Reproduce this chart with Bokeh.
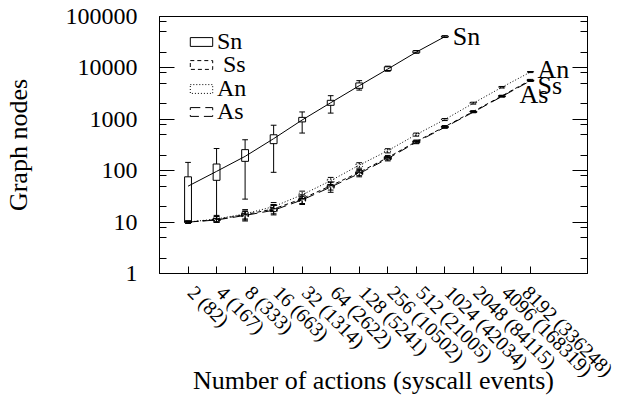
from bokeh.plotting import figure
from bokeh.models import (Range1d, FixedTicker, LogAxis, NumeralTickFormatter,
                          Legend, LegendItem, Label, CustomJSTickFormatter)
from bokeh.embed import file_html
from bokeh.resources import INLINE

# ---------------- data ----------------
actions = [2, 4, 8, 16, 32, 64, 128, 256, 512, 1024, 2048, 4096, 8192]
events = [82, 167, 333, 663, 1314, 2622, 5241, 10502, 21005, 42034, 84115, 168319, 336248]

# Sn (up to 1024 actions)
sn_med = [50, 97, 190, 420, 970, 2100, 4500, 9500, 20300, 40500]
sn_q1 = [10.3, 65, 152, 336, 890, 1870, 4000, 8900, 19600, 39600]
sn_q3 = [76, 135, 257, 500, 1090, 2340, 5100, 10500, 21500, 41700]
sn_lo = [10, 10, 28, 93, 540, 1320, 3700, 8600, 19300, 39000]
sn_hi = [145, 270, 400, 767, 1390, 2880, 5650, 10800, 21800, 42300]

# An
an_med = [10, 11.5, 14.5, 20, 34, 64, 128, 245, 505, 990, 2060, 4200, 8300]
an_q1 = [9.8, 11, 13.5, 18.5, 31.5, 60, 121, 234, 488, 965, 2010, 4120, 8180]
an_q3 = [10.2, 12, 15.5, 21.5, 36.5, 68, 135, 256, 522, 1015, 2110, 4280, 8420]
an_lo = [9.5, 10, 11.5, 16, 28, 54, 112, 222, 470, 945, 1975, 4060, 8100]
an_hi = [10.5, 13.5, 17.5, 24, 40, 74, 143, 268, 540, 1035, 2150, 4350, 8500]

# Ss
ss_med = [10, 11.2, 14, 18, 28.5, 51, 93, 180, 370, 720, 1420, 2850, 5800]
ss_q1 = [9.8, 10.7, 13.2, 16.8, 26.5, 48, 88, 172, 358, 702, 1395, 2800, 5700]
ss_q3 = [10.2, 11.8, 14.8, 19.3, 30.5, 54, 98, 188, 382, 738, 1445, 2900, 5900]
ss_lo = [9.5, 10, 11, 14.5, 23, 42, 80, 162, 345, 685, 1370, 2760, 5620]
ss_hi = [10.5, 13, 16.5, 22, 34, 60, 106, 198, 395, 755, 1470, 2940, 5980]

# As
as_med = [10, 11, 13.5, 17, 27, 48, 88, 172, 358, 700, 1380, 2780, 5600]
as_q1 = [9.8, 10.5, 12.8, 16, 25.5, 45.5, 84, 165, 348, 685, 1360, 2740, 5520]
as_q3 = [10.2, 11.6, 14.3, 18.2, 28.8, 51, 93, 180, 368, 716, 1402, 2820, 5680]
as_lo = [9.5, 10, 10.5, 13.8, 22, 38, 76, 155, 335, 668, 1340, 2700, 5450]
as_hi = [10.5, 12.8, 16, 21, 32, 60, 100, 190, 380, 730, 1420, 2860, 5750]

series_names = ["Sn", "Ss", "An", "As"]

y_major = [1, 10, 100, 1000, 10000, 100000]
y_minor_mult = [2, 5, 8]

# ---------------- figure ----------------
FONT = "Liberation Serif"
NBSP = "\u00a0"
FRAME_H = 257
xs = list(range(1, len(actions) + 1))
x_labels = {x: f"{NBSP}{a} ({e})" for x, a, e in zip(xs, actions, events)}

p = figure(frame_width=428, frame_height=FRAME_H, output_backend="svg",
           toolbar_location=None,
           x_range=Range1d(0, 15), y_range=Range1d(1, 100000), y_axis_type="log",
           min_border_left=157, min_border_right=30, min_border_top=16,
           min_border_bottom=125)
p.grid.visible = False
p.outline_line_color = "black"
p.outline_line_width = 1
p.background_fill_color = "white"
p.border_fill_color = "white"

# y axes
y_ticker = FixedTicker(ticks=y_major,
                       minor_ticks=[m * d for d in y_major[:-1] for m in y_minor_mult])
ya = p.yaxis[0]
ya.ticker = y_ticker
ya.formatter = NumeralTickFormatter(format="0")
ya.major_tick_in = 15
ya.major_tick_out = 0
ya.minor_tick_in = 7
ya.minor_tick_out = 0
ya.major_label_standoff = 22
ya.major_label_text_font = FONT
ya.major_label_text_font_size = "24px"
ya.major_label_text_color = "black"
ya.axis_label = "Graph nodes"
ya.axis_label_text_font = FONT
ya.axis_label_text_font_size = "26px"
ya.axis_label_text_font_style = "normal"
ya.axis_label_text_color = "black"
ya.axis_label_standoff = 30
ya.axis_line_color = "black"

ra = LogAxis(ticker=y_ticker, formatter=CustomJSTickFormatter(code="return ''"),
             major_label_standoff=0, major_tick_in=15, major_tick_out=0,
             minor_tick_in=7, minor_tick_out=0, axis_line_color="black")
p.add_layout(ra, "right")

# x axis
xa = p.xaxis[0]
xa.ticker = FixedTicker(ticks=xs, minor_ticks=[])
xa.major_label_overrides = x_labels
xa.major_label_orientation = -0.7853981634
xa.major_tick_in = 7
xa.major_tick_out = 0
xa.minor_tick_in = 0
xa.minor_tick_out = 0
xa.major_label_standoff = 12
xa.major_label_text_font = FONT
xa.major_label_text_font_size = "20px"
xa.major_label_text_color = "black"
xa.axis_label = "Number of actions (syscall events)"
xa.axis_label_text_font = FONT
xa.axis_label_text_font_size = "26px"
xa.axis_label_text_font_style = "normal"
xa.axis_label_text_color = "black"
xa.axis_label_standoff = -25
xa.axis_line_color = "black"

BOXW = 0.12
CAPW = 0.1


def draw(med, q1, q3, lo, hi, dash):
    x = xs[:len(med)]
    p.segment(x0=x, y0=q3, x1=x, y1=hi, line_color="black", line_dash=dash)
    p.segment(x0=x, y0=lo, x1=x, y1=q1, line_color="black", line_dash=dash)
    p.segment(x0=[v - CAPW for v in x], y0=hi, x1=[v + CAPW for v in x], y1=hi,
              line_color="black")
    p.segment(x0=[v - CAPW for v in x], y0=lo, x1=[v + CAPW for v in x], y1=lo,
              line_color="black")
    box = p.quad(left=[v - BOXW for v in x], right=[v + BOXW for v in x],
                 bottom=q1, top=q3, fill_color=None, line_color="black",
                 line_dash=dash, line_width=1)
    p.line(x, med, line_color="black", line_dash=dash, line_width=1)
    return box


b_sn = draw(sn_med, sn_q1, sn_q3, sn_lo, sn_hi, "solid")
b_ss = draw(ss_med, ss_q1, ss_q3, ss_lo, ss_hi, "4 3")
b_an = draw(an_med, an_q1, an_q3, an_lo, an_hi, "1 2")
b_as = draw(as_med, as_q1, as_q3, as_lo, as_hi, "10 5")

# legend: one single-row legend per entry, for a tight row pitch
ROW_H = 28
ROW_C = [24.5, 48, 71.5, 95]   # row centres, px below the frame top
for name, box, rc in zip(series_names, [b_sn, b_ss, b_an, b_as], ROW_C):
    lab = (NBSP + name) if name == "Ss" else name
    lg = Legend(items=[LegendItem(label=lab, renderers=[box])],
                location=(28, FRAME_H - rc - ROW_H / 2), padding=0, margin=0,
                glyph_width=28, glyph_height=11, label_standoff=2,
                border_line_color=None, background_fill_alpha=0,
                label_text_font=FONT, label_text_font_size="24px",
                label_text_color="black")
    p.add_layout(lg)

# end-of-series labels
def end_label(txt, x, y, dx, dy):
    p.add_layout(Label(x=x, y=y, x_offset=dx, y_offset=dy, text=txt,
                       text_font=FONT, text_font_size="26px", text_color="black",
                       text_baseline="middle", text_align="left"))

end_label("Sn", xs[len(sn_med) - 1], sn_med[-1], 8, 0)
end_label("An", xs[len(an_med) - 1], an_med[-1], 7, 3)
end_label("Ss", xs[len(ss_med) - 1], ss_med[-1], 7, -5)
end_label("As", xs[len(as_med) - 1], as_med[-1], -11, -14)

open("out.html", "w").write(file_html(p, INLINE))
